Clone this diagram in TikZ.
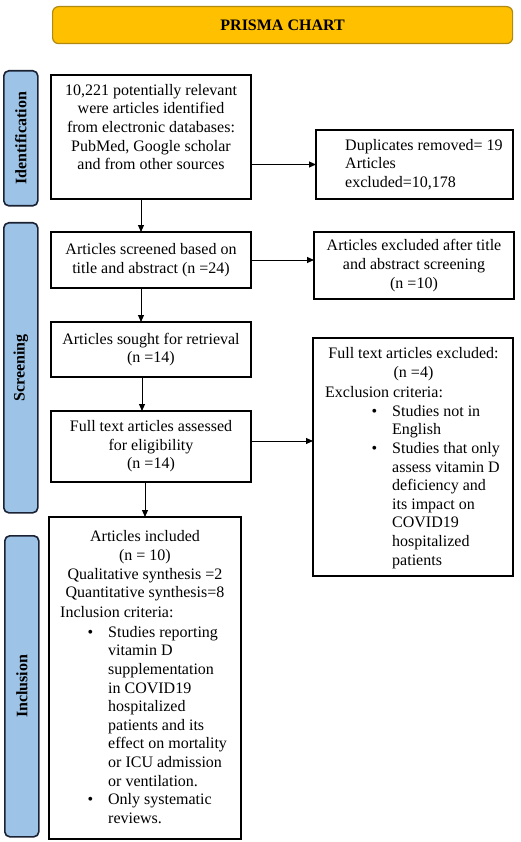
\documentclass[tikz,border=0pt]{standalone}
\usepackage{fontspec}
\setmainfont{Liberation Serif}
\usetikzlibrary{arrows.meta}
\definecolor{gold}{HTML}{FFC000}
\definecolor{golddark}{HTML}{B08A10}
\definecolor{barblue}{HTML}{9DC3E6}
\definecolor{bardark}{HTML}{1B2233}
\begin{document}
\begin{tikzpicture}[x=1pt,y=-1pt,
  box/.style={draw, line width=1.3pt, inner sep=0pt, outer sep=0pt, anchor=north west},
  txt/.style={font=\fontsize{16}{18.6}\selectfont, inner sep=0pt, align=center},
  ltxt/.style={font=\fontsize{16}{18.6}\selectfont, inner sep=0pt, align=left, anchor=north west},
  bar/.style={draw=bardark, fill=barblue, line width=1.6pt, rounded corners=5pt, inner sep=0pt, anchor=north west},
  barlabel/.style={font=\fontsize{16}{18.6}\selectfont\bfseries, rotate=90, inner sep=0pt},
  arr/.style={line width=1pt, -{Triangle[length=7pt,width=6pt]}}]
\useasboundingbox (0,0) rectangle (520,842);
% title
\node[draw=golddark, fill=gold, line width=1.2pt, rounded corners=6pt, minimum width=460pt, minimum height=37pt, anchor=north west, inner sep=0pt] (title) at (52,6) {};
\node[font=\fontsize{16}{18.6}\selectfont\bfseries, inner sep=0pt] (titletext) at (title.center) {PRISMA CHART};
% side bars
\node[bar, minimum width=34pt, minimum height=135pt] (ident) at (3,70) {};
\node[barlabel] (identl) at (ident.center) {Identification};
\node[bar, minimum width=34pt, minimum height=290pt] (screen) at (3,222) {};
\node[barlabel] (screenl) at (screen.center) {Screening};
\node[bar, minimum width=34pt, minimum height=301pt] (incl) at (4,535) {};
\node[barlabel] (incll) at (incl.center) {Inclusion};
% boxes
\node[box, minimum width=200pt, minimum height=124pt] (b1) at (51,75) {};
\node[txt] (t1) at (151,127) {10,221 potentially relevant\\were articles identified\\from electronic databases:\\PubMed, Google scholar\\and from other sources};
\node[box, minimum width=197pt, minimum height=69pt] (b2) at (316,130) {};
\node[ltxt] (t2) at (345,139) {Duplicates removed= 19\\Articles\\excluded=10,178};
\node[box, minimum width=200pt, minimum height=56pt] (b3) at (51,232) {};
\node[txt] (t3) at (b3.center) {Articles screened based on\\title and abstract (n =24)};
\node[box, minimum width=200pt, minimum height=67pt] (b4) at (314,232) {};
\node[txt] (t4) at (b4.center) {Articles excluded after title\\and abstract screening\\(n =10)};
\node[box, minimum width=200pt, minimum height=55pt] (b5) at (51,322) {};
\node[txt] (t5) at (b5.center) {Articles sought for retrieval\\(n =14)};
\node[box, minimum width=200pt, minimum height=71pt] (b6) at (51,411) {};
\node[txt] (t6) at (b6.center) {Full text articles assessed\\for eligibility\\(n =14)};
\node[box, minimum width=200pt, minimum height=238pt] (b7) at (313,338) {};
\node[txt] (t7a) at (413.5,364) {Full text articles excluded:\\(n =4)};
\node[ltxt] (t7b) at (325,386) {Exclusion criteria:};
\node[ltxt] (t7c) at (392,405) {\leavevmode\llap{\textbullet\hspace{15pt}}Studies not in\\English\\\llap{\textbullet\hspace{15pt}}Studies that only\\assess vitamin D\\deficiency and\\its impact on\\COVID19\\hospitalized\\patients};
\node[box, minimum width=192pt, minimum height=322pt] (b8) at (49,517) {};
\node[txt] (t8a) at (145,566) {Articles included\\(n = 10)\\Qualitative synthesis =2\\Quantitative synthesis=8};
\node[ltxt] (t8b) at (60,606) {Inclusion criteria:};
\node[ltxt] (t8c) at (108,626) {\leavevmode\llap{\textbullet\hspace{15pt}}Studies reporting\\vitamin D\\supplementation\\in COVID19\\hospitalized\\patients and its\\effect on mortality\\or ICU admission\\or ventilation.\\\llap{\textbullet\hspace{15pt}}Only systematic\\reviews.};
% arrow guide coordinates
\coordinate (ax1) at (141,0);
\coordinate (ax2) at (142,0);
\coordinate (ax3) at (145,0);
\coordinate (ay1) at (0,441);
% connectors
\draw[arr] (b1.east |- b2.west) -- (b2.west);
\draw[arr] (ax1 |- b1.south) -- (ax1 |- b3.north);
\draw[arr] (b3.east) -- (b3.east -| b4.west);
\draw[arr] (ax1 |- b3.south) -- (ax1 |- b5.north);
\draw[arr] (ax2 |- b5.south) -- (ax2 |- b6.north);
\draw[arr] (b6.east |- ay1) -- (b7.west |- ay1);
\draw[arr] (ax3 |- b6.south) -- (ax3 |- b8.north);
\end{tikzpicture}
\end{document}
